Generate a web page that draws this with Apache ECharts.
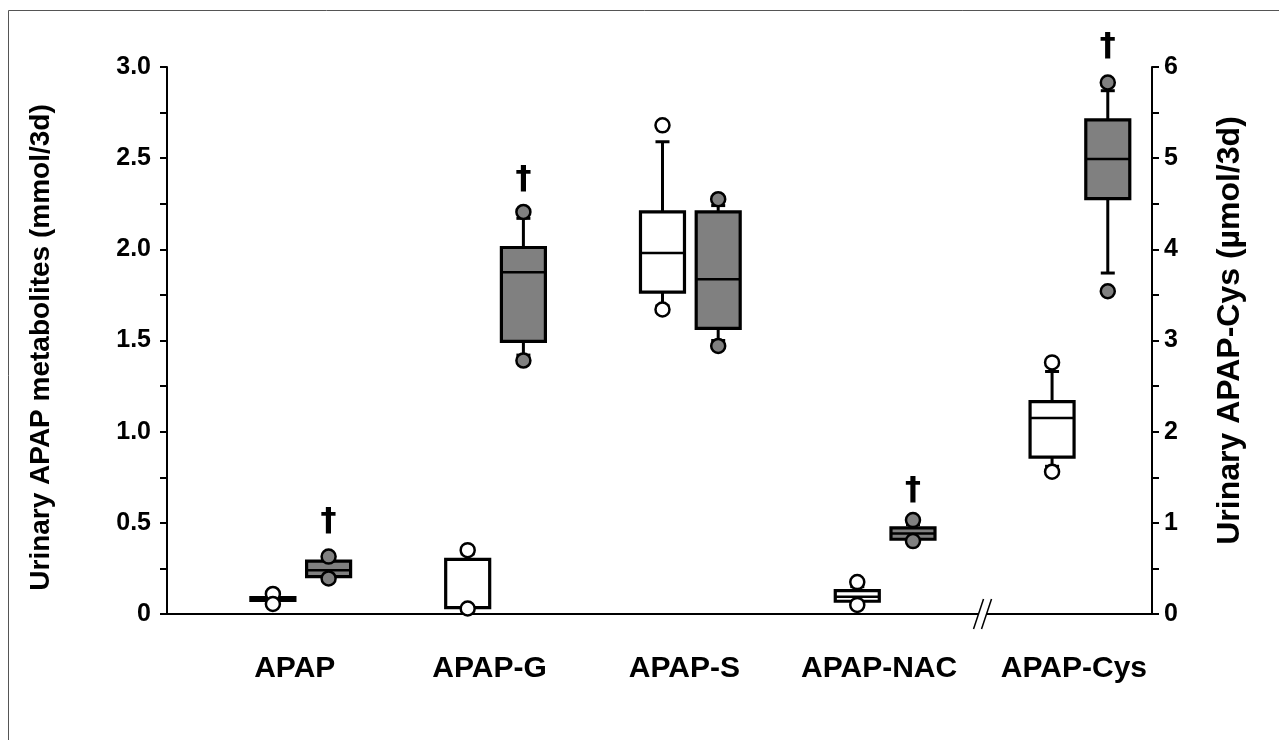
<!DOCTYPE html>
<html>
<head>
<meta charset="utf-8">
<script src="https://cdn.jsdelivr.net/npm/echarts@6.0.0/dist/echarts.min.js"></script>
<style>html,body{margin:0;padding:0;background:#fff;}#chart{width:1279px;height:740px;}</style>
</head>
<body>
<div id="chart"></div>
<script>
// ---- data ----
const categories = ['APAP', 'APAP-G', 'APAP-S', 'APAP-NAC', 'APAP-Cys'];
// box stats: [lower whisker, Q1, median, Q3, upper whisker]
// APAP-Cys values are on the right axis (µmol/3d)
const controlBoxes = [
  [0.070, 0.075, 0.080, 0.090, 0.095],
  [0.030, 0.035, 0.035, 0.300, 0.330],
  [1.690, 1.765, 1.980, 2.205, 2.590],
  [0.060, 0.070, 0.095, 0.128, 0.150],
  [1.620, 1.720, 2.150, 2.330, 2.660]
];
const treatedBoxes = [
  [0.200, 0.205, 0.240, 0.290, 0.300],
  [1.420, 1.495, 1.875, 2.010, 2.170],
  [1.500, 1.567, 1.836, 2.205, 2.240],
  [0.410, 0.410, 0.442, 0.472, 0.490],
  [3.740, 4.556, 4.990, 5.420, 5.740]
];
const controlOutliers = [
  [0.110, 0.055],
  [0.350, 0.030],
  [2.680, 1.670],
  [0.175, 0.050],
  [2.760, 1.560]
];
const treatedOutliers = [
  [0.315, 0.195],
  [2.205, 1.390],
  [2.275, 1.470],
  [0.515, 0.400],
  [5.830, 3.540]
];
// dagger marks above the treated boxes (null = none)
const daggerValues = [0.505, 2.38, null, 0.675, 6.22];
const rightAxisCategory = 'APAP-Cys';
const leftTickLabels = ['0', '0.5', '1.0', '1.5', '2.0', '2.5', '3.0'];
const rightTickLabels = ['0', '1', '2', '3', '4', '5', '6'];
const breakPosition = 4.5;

// ---- layout helpers ----
const pairOffset = 0.143;
const FONT = "'Liberation Sans', Arial, sans-serif";

function axisIndexFor(i) { return categories[i] === rightAxisCategory ? 1 : 0; }

function boxData(boxes, offset, axis) {
  const out = [];
  boxes.forEach((b, i) => {
    if (axisIndexFor(i) === axis) out.push([i + 1 + offset].concat(b));
  });
  return out;
}
function outlierData(outs, offset, axis) {
  const out = [];
  outs.forEach((o, i) => {
    if (axisIndexFor(i) === axis) o.forEach(v => out.push([i + 1 + offset, v]));
  });
  return out;
}
function daggerData(axis) {
  const out = [];
  daggerValues.forEach((v, i) => {
    if (v !== null && axisIndexFor(i) === axis) out.push([i + 1 + pairOffset, v]);
  });
  return out;
}

function makeBoxRenderer(fill) {
  return function (params, api) {
    const x = api.value(0);
    const pLo = api.coord([x, api.value(1)]);
    const pQ1 = api.coord([x, api.value(2)]);
    const pMed = api.coord([x, api.value(3)]);
    const pQ3 = api.coord([x, api.value(4)]);
    const pHi = api.coord([x, api.value(5)]);
    const cx = pQ1[0];
    const hw = 22, cw = 7;
    const ls = { stroke: '#000', lineWidth: 3 };
    return {
      type: 'group',
      children: [
        { type: 'line', shape: { x1: cx, y1: pQ3[1], x2: cx, y2: pHi[1] }, style: ls },
        { type: 'line', shape: { x1: cx, y1: pQ1[1], x2: cx, y2: pLo[1] }, style: ls },
        { type: 'line', shape: { x1: cx - cw, y1: pHi[1], x2: cx + cw, y2: pHi[1] }, style: ls },
        { type: 'line', shape: { x1: cx - cw, y1: pLo[1], x2: cx + cw, y2: pLo[1] }, style: ls },
        { type: 'rect', shape: { x: cx - hw, y: pQ3[1], width: 2 * hw, height: Math.max(pQ1[1] - pQ3[1], 1) },
          style: { fill: fill, stroke: '#000', lineWidth: 3.2 } },
        { type: 'line', shape: { x1: cx - hw, y1: pMed[1], x2: cx + hw, y2: pMed[1] }, style: { stroke: '#000', lineWidth: 2.5 } }
      ]
    };
  };
}

function daggerRenderer(params, api) {
  const p = api.coord([api.value(0), api.value(1)]);
  return {
    type: 'text', x: p[0], y: p[1],
    style: { text: '\u2020', fill: '#000', font: "bold 32px 'DejaVu Sans', sans-serif",
      align: 'center', verticalAlign: 'middle', textAlign: 'center', textVerticalAlign: 'middle' }
  };
}

function breakRenderer(params, api) {
  const p = api.coord([api.value(0), 0]);
  const x = p[0], y = p[1];
  const dx = 5, h = 15, g = 4;
  return {
    type: 'group',
    children: [
      { type: 'polygon', shape: { points: [[x - g - dx, y + h], [x + g - dx, y + h], [x + g + dx, y - h], [x - g + dx, y - h]] },
        style: { fill: '#fff', stroke: null } },
      { type: 'line', shape: { x1: x - g - dx, y1: y + h, x2: x - g + dx, y2: y - h }, style: { stroke: '#000', lineWidth: 1.5 } },
      { type: 'line', shape: { x1: x + g - dx, y1: y + h, x2: x + g + dx, y2: y - h }, style: { stroke: '#000', lineWidth: 1.5 } }
    ]
  };
}

const series = [];
[0, 1].forEach(axis => {
  series.push({
    type: 'custom', name: 'control-' + axis, yAxisIndex: axis, z: 2,
    renderItem: makeBoxRenderer('#ffffff'),
    encode: { x: 0, y: [1, 2, 3, 4, 5] },
    data: boxData(controlBoxes, -pairOffset, axis), silent: true
  });
  series.push({
    type: 'custom', name: 'treated-' + axis, yAxisIndex: axis, z: 2,
    renderItem: makeBoxRenderer('#808080'),
    encode: { x: 0, y: [1, 2, 3, 4, 5] },
    data: boxData(treatedBoxes, pairOffset, axis), silent: true
  });
  series.push({
    type: 'scatter', yAxisIndex: axis, z: 3, symbol: 'circle', symbolSize: 14,
    itemStyle: { color: '#ffffff', borderColor: '#000', borderWidth: 2.5, opacity: 1 },
    data: outlierData(controlOutliers, -pairOffset, axis), silent: true
  });
  series.push({
    type: 'scatter', yAxisIndex: axis, z: 3, symbol: 'circle', symbolSize: 14,
    itemStyle: { color: '#808080', borderColor: '#000', borderWidth: 2.5, opacity: 1 },
    data: outlierData(treatedOutliers, pairOffset, axis), silent: true
  });
  series.push({
    type: 'custom', yAxisIndex: axis, z: 4, renderItem: daggerRenderer,
    encode: { x: 0, y: 1 }, clip: false,
    data: daggerData(axis), silent: true
  });
});
series.push({
  type: 'custom', z: 5, renderItem: breakRenderer, encode: { x: 0, y: 1 },
  data: [[breakPosition, 0]], silent: true, clip: false
});

const tickTextStyle = { color: '#000', fontFamily: FONT, fontWeight: 'bold', fontSize: 25 };
const catTextStyle = { color: '#000', fontFamily: FONT, fontWeight: 'bold', fontSize: 30 };
const nameTextStyle = { color: '#000', fontFamily: FONT, fontWeight: 'bold', fontSize: 28 };
const rightNameTextStyle = { color: '#000', fontFamily: FONT, fontWeight: 'bold', fontSize: 32 };
const axisLine = { show: true, onZero: false, lineStyle: { color: '#000', width: 2 } };

const option = {
  animation: false,
  backgroundColor: '#fff',
  grid: { left: 167, right: 127, top: 67, bottom: 126 },
  graphic: [{
    type: 'rect', silent: true, z: -10,
    shape: { x: 8.5, y: 10.5, width: 1400, height: 900 },
    style: { fill: 'none', stroke: '#555', lineWidth: 1 }
  }],
  xAxis: {
    type: 'value', min: 0.3134, max: 5.37,
    axisLine: axisLine,
    axisTick: { show: false },
    splitLine: { show: false },
    axisLabel: Object.assign({
      customValues: [1, 2, 3, 4, 5], margin: 40, padding: [0, 12, 0, 0],
      formatter: v => categories[Math.round(v) - 1] || ''
    }, catTextStyle)
  },
  yAxis: [{
    type: 'value', min: 0, max: 3, interval: 0.5, position: 'left',
    name: 'Urinary APAP metabolites (mmol/3d)', nameLocation: 'middle', nameRotate: 90, nameGap: 112,
    nameTextStyle: Object.assign({ padding: [0, 14, 0, 0] }, nameTextStyle),
    axisLine: axisLine,
    axisTick: { show: true, length: 7, lineStyle: { color: '#000', width: 2 } },
    minorTick: { show: true, splitNumber: 2, length: 7, lineStyle: { color: '#000', width: 2 } },
    splitLine: { show: false }, minorSplitLine: { show: false },
    axisLabel: Object.assign({ margin: 16,
      formatter: v => leftTickLabels[Math.round(v * 2)] }, tickTextStyle)
  }, {
    type: 'value', min: 0, max: 6, interval: 1, position: 'right',
    name: 'Urinary APAP-Cys (\u00b5mol/3d)', nameLocation: 'middle', nameRotate: 90, nameGap: 62,
    nameTextStyle: Object.assign({ padding: [0, 0, 0, 20] }, rightNameTextStyle),
    axisLine: axisLine,
    axisTick: { show: true, length: 7, lineStyle: { color: '#000', width: 2 } },
    minorTick: { show: true, splitNumber: 2, length: 7, lineStyle: { color: '#000', width: 2 } },
    splitLine: { show: false }, minorSplitLine: { show: false },
    axisLabel: Object.assign({ margin: 12,
      formatter: v => rightTickLabels[Math.round(v)] }, tickTextStyle)
  }],
  series: series
};

const chart = echarts.init(document.getElementById('chart'), null, { renderer: 'canvas' });
chart.setOption(option);
</script>
</body>
</html>
